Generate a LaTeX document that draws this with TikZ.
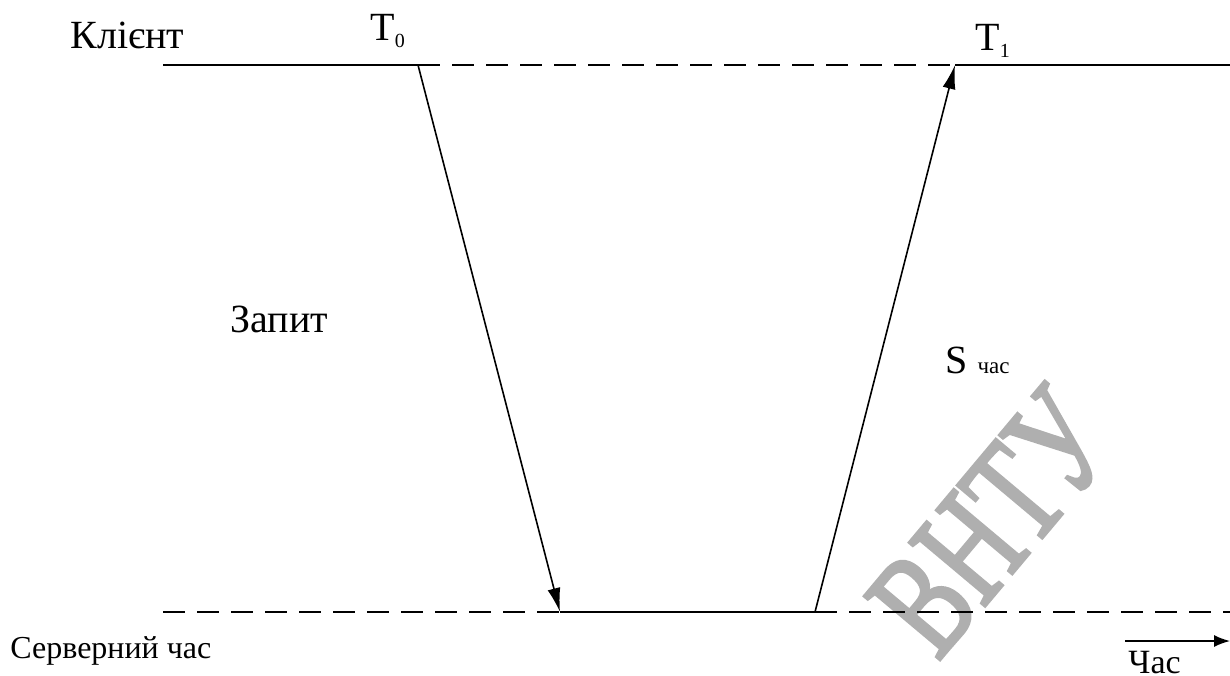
\documentclass[tikz,border=0pt]{standalone}
\usepackage{fontspec}
\setmainfont{Liberation Serif}
\newfontfamily\markfont[FakeBold=2.5]{Liberation Serif}
\usetikzlibrary{arrows.meta}
\definecolor{ink}{HTML}{000000}
\definecolor{mark}{HTML}{AFAFAF}

\begin{document}
\begin{tikzpicture}[
    x=0.5pt, y=-0.5pt,
    axis/.style={draw=ink, line width=1.1pt},
    gap/.style={axis, dash pattern=on 11pt off 6pt},
    msg/.style={draw=ink, line width=0.8pt, -{Latex[length=12pt, width=6.5pt]}},
    lbl/.style={inner sep=0pt, anchor=base west, text=ink, font=\fontsize{20}{24}\selectfont},
    slbl/.style={lbl, font=\fontsize{16}{19}\selectfont},
]
\useasboundingbox (0,0) rectangle (1230,675);

% ---------------------------------------------------------------- watermark
\node (wm) at (992,522) [rotate=50, text=mark, inner sep=0pt,
    font=\markfont\fontsize{75}{80}\selectfont] {\scalebox{0.7}[1]{ВНТУ}};

% ---------------------------------------------------------------- time lines
\coordinate (cL) at (163,65);
\coordinate (t0) at (418,65);
\coordinate (t1) at (955,65);
\coordinate (cR) at (1230,65);

\coordinate (sL) at (163,612);
\coordinate (sA) at (560,612);
\coordinate (sB) at (815,612);
\coordinate (sR) at (1230,612);

\draw [axis] (cL) -- (t0);
\draw [gap]  (t0) -- (t1);
\draw [axis] (t1) -- (cR);

\draw [gap]  (sL) -- (sA);
\draw [axis] (sA) -- (sB);
\draw [gap]  (sB) -- (sR);

% ---------------------------------------------------------------- messages
\draw [msg] (t0) -- (sA);
\draw [msg] (sB) -- (t1);

% ---------------------------------------------------------------- labels
\node (client) at (70,48)   [lbl]  {Клієнт};
\node (lt0)    at (370,40)  [lbl]  {T\raisebox{-3.5pt}{\fontsize{10}{12}\selectfont 0}};
\node (lt1)    at (975,50)  [lbl]  {T\raisebox{-3.5pt}{\fontsize{10}{12}\selectfont 1}};
\node (req)    at (230,332) [lbl]  {Запит};
\node (sres)   at (945,373) [lbl]  {S {\fontsize{11.5}{13}\selectfont час}};
\node (server) at (10,658)  [slbl] {Серверний час};

% ---------------------------------------------------------------- time axis
\coordinate (hA) at (1125,641);
\coordinate (hB) at (1230,641);
\draw [msg, -{Latex[length=8pt, width=6pt]}] (hA) -- (hB);
\node (hour) at (1128,673) [slbl, font=\fontsize{17}{20}\selectfont] {Час};

\end{tikzpicture}
\end{document}
